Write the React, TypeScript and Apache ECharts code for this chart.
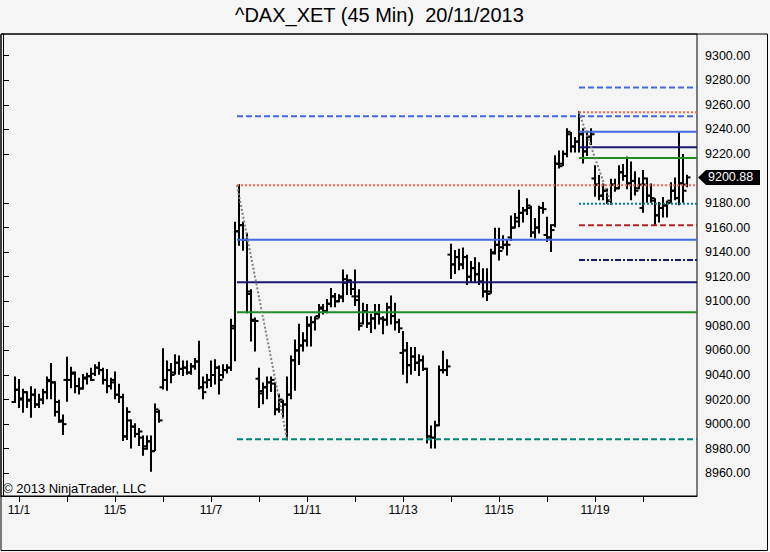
import React, { useEffect, useRef } from 'react';
import * as echarts from 'echarts';

// trading sessions shown on the chart (45 min bars)
const sessions = ['10/31', '11/1', '11/4', '11/5', '11/6', '11/7', '11/8', '11/11', '11/12', '11/13', '11/14', '11/15', '11/18', '11/19', '11/20'];
const sessionBars = [1, 12, 12, 12, 12, 12, 12, 12, 12, 12, 12, 12, 12, 12, 12];
const labeledSessions = ['11/1', '11/5', '11/7', '11/11', '11/13', '11/15', '11/19'];

// [open, close, low, high]
const bars: number[][] = [
  [9018, 9028, 9018, 9038],
  // 11/1
  [9028, 9020, 9014, 9036], [9021, 9026, 9010, 9028], [9026, 9019, 9014, 9026], [9020, 9024, 9006, 9030],
  [9024, 9016, 9014, 9028], [9016, 9020, 9014, 9024], [9020, 9026, 9017, 9028], [9026, 9035, 9021, 9038],
  [9036, 9034, 9021, 9049], [9034, 9010, 9007, 9034], [9018, 9003, 9002, 9019], [9002, 9000, 8992, 9007],
  // 11/4
  [9036, 9036, 9019, 9054], [9036, 9042, 9030, 9046], [9041, 9031, 9026, 9042], [9031, 9029, 9025, 9037],
  [9029, 9038, 9029, 9040], [9037, 9039, 9033, 9041], [9039, 9036, 9036, 9045], [9041, 9046, 9040, 9048],
  [9046, 9044, 9041, 9050], [9044, 9036, 9033, 9045], [9036, 9031, 9026, 9044], [9031, 9034, 9029, 9037],
  // 11/5
  [9036, 9024, 9021, 9042], [9024, 9022, 9018, 9032], [9022, 8990, 8987, 9024], [8990, 9010, 8988, 9013],
  [9003, 8998, 8981, 9003], [8998, 8992, 8990, 9000], [8992, 8994, 8983, 8996], [8989, 8980, 8975, 8990],
  [8982, 8986, 8980, 8990], [8986, 8978, 8962, 8990], [8978, 9012, 8979, 9016], [9010, 9003, 9002, 9011],
  // 11/6
  [9030, 9036, 9029, 9061], [9036, 9044, 9028, 9051], [9044, 9040, 9034, 9049], [9042, 9050, 9041, 9056],
  [9050, 9045, 9041, 9055], [9045, 9046, 9040, 9051], [9046, 9042, 9041, 9051], [9042, 9047, 9041, 9049],
  [9047, 9051, 9045, 9053], [9051, 9030, 9029, 9067], [9030, 9026, 9021, 9038], [9034, 9036, 9030, 9040],
  // 11/7
  [9036, 9040, 9031, 9051], [9040, 9046, 9033, 9052], [9046, 9036, 9025, 9047], [9040, 9044, 9038, 9048],
  [9044, 9046, 9042, 9048], [9046, 9080, 9044, 9085], [9078, 9157, 9052, 9164], [9157, 9162, 9146, 9194.4],
  [9162, 9150, 9142, 9164], [9150, 9108, 9091, 9155], [9106, 9085, 9068, 9109], [9084, 9084, 9060, 9086],
  // 11/8
  [9037, 9027, 9014, 9045], [9025, 9030, 9017, 9033], [9030, 9034, 9021, 9038], [9034, 9036, 9027, 9038],
  [9033, 9012, 9008, 9033], [9012, 9020, 9010, 9024], [9018, 9016, 9006, 9019], [9016, 9024, 8987.7, 9038],
  [9024, 9052, 9021, 9055], [9052, 9060, 9028, 9068], [9060, 9064, 9049, 9081], [9064, 9068, 9060, 9074],
  // 11/11
  [9068, 9081, 9064, 9087], [9080, 9083, 9064, 9087], [9083, 9086, 9077, 9087], [9088, 9095, 9087, 9097],
  [9094, 9092, 9090, 9097], [9092, 9098, 9091, 9101], [9098, 9104, 9096, 9110], [9104, 9100, 9096, 9106],
  [9100, 9104, 9100, 9105], [9103, 9118, 9100, 9125], [9115, 9117, 9106, 9121], [9117, 9110, 9106, 9117],
  // 11/12
  [9104, 9101, 9097, 9125], [9104, 9080, 9077, 9109], [9082, 9092, 9082, 9098], [9092, 9082, 9079, 9097],
  [9082, 9086, 9075, 9089], [9086, 9090, 9078, 9097], [9090, 9086, 9082, 9097], [9086, 9085, 9074, 9087],
  [9085, 9095, 9081, 9098], [9095, 9088, 9082, 9104], [9088, 9083, 9077, 9098], [9083, 9078, 9075, 9085],
  // 11/13
  [9058, 9060, 9041, 9075], [9060, 9048, 9034, 9066], [9048, 9055, 9041, 9062], [9055, 9050, 9044, 9062],
  [9050, 9052, 9040, 9056], [9052, 9045, 9044, 9055], [9045, 8990, 8985, 9045], [8990, 8989, 8981, 8998],
  [8989, 8999, 8981, 9002], [8999, 9044, 8999, 9047], [9044, 9044, 9042, 9059], [9044, 9047, 9040, 9052],
  // 11/14
  [9138, 9130, 9119, 9146], [9130, 9136, 9123, 9141], [9136, 9130, 9126, 9142], [9130, 9136, 9127, 9143],
  [9136, 9120, 9114, 9137], [9120, 9127, 9116, 9132], [9127, 9122, 9116, 9135], [9122, 9116, 9114, 9131],
  [9116, 9108, 9104, 9126], [9108, 9106, 9101, 9126], [9108, 9139, 9107, 9142], [9140, 9146, 9139, 9159],
  // 11/15
  [9146, 9141, 9134, 9159], [9144, 9146, 9143, 9153], [9146, 9146, 9138, 9149], [9152, 9160, 9150, 9169],
  [9160, 9168, 9160, 9171], [9165, 9172, 9161, 9190], [9172, 9174, 9165, 9176], [9174, 9178, 9171, 9183],
  [9176, 9156, 9153, 9177], [9156, 9160, 9152, 9167], [9160, 9176, 9156, 9177], [9176, 9175, 9172, 9180],
  // 11/18
  [9154, 9152, 9149, 9168], [9152, 9158, 9141, 9162], [9162, 9212, 9161, 9218], [9212, 9210, 9209, 9222],
  [9212, 9220, 9211, 9222], [9220, 9238, 9218, 9240], [9236, 9226, 9222, 9237], [9226, 9230, 9222, 9233],
  [9230, 9236, 9222, 9253.9], [9236, 9222, 9213, 9240], [9222, 9234, 9219, 9238], [9234, 9236, 9228, 9240],
  // 11/19
  [9200, 9195, 9186, 9210], [9195, 9186, 9183, 9202], [9186, 9190, 9183, 9195], [9190, 9182, 9180, 9191],
  [9182, 9195, 9179.5, 9199], [9195, 9192, 9190, 9199], [9192, 9205, 9192, 9210], [9205, 9202, 9199, 9211],
  [9202, 9196, 9192, 9217], [9196, 9198, 9183, 9213], [9198, 9190, 9187, 9205], [9192, 9195, 9192, 9200],
  // 11/20
  [9176, 9200, 9173, 9206], [9195, 9186, 9181, 9200], [9186, 9184, 9181, 9195], [9182, 9170, 9163, 9183],
  [9170, 9176, 9165, 9180], [9176, 9178, 9169, 9184], [9178, 9180, 9169, 9181], [9182, 9190, 9181, 9196],
  [9190, 9184, 9183, 9200], [9184, 9196, 9179, 9237], [9196, 9190, 9181, 9219], [9195, 9200.88, 9193.6, 9202.3],
];

const priceTicks = [8960, 8980, 9000, 9020, 9040, 9060, 9080, 9100, 9120, 9140, 9160, 9180, 9200, 9220, 9240, 9260, 9280, 9300];
const lastPrice = 9200.88;

// fibonacci drawings: anchor slots and prices
const fibA = { highSlot: 58.5, high: 9194.4, lowSlot: 71, low: 8987.7 };
const fibB = { highSlot: 144, high: 9253.9, lowSlot: 152, low: 9179.5 };
const fibLevelsA = [0, 0.5, 0.618, 0.786, 1, 1.272];
const fibLevelsB = [-0.618, -0.236, 0, 0.5, 0.618, 0.786, 1, 1.272];

const firstSlot = 3;
const lastSlot = 173.5;
const FONT = '"Liberation Sans", Arial, sans-serif';

const levelStyle = (r: number, dashedBase: boolean) => {
  if (r === 1.272) return { color: '#4169E1', type: [6, 3] };
  if (r === 1) return { color: '#FF6347', type: [2, 2] };
  if (r === 0.786) return { color: '#4169E1', type: 'solid' };
  if (r === 0.618) return { color: '#191970', type: 'solid' };
  if (r === 0.5) return { color: '#228B22', type: 'solid' };
  if (r === 0) return { color: '#008080', type: dashedBase ? [6, 3] : [2, 2] };
  if (r === -0.236) return { color: '#B22222', type: [6, 3] };
  return { color: '#191970', type: [6, 2, 2, 2] };
};

const App: React.FC = () => {
  const chartRef = useRef<HTMLDivElement>(null);

  useEffect(() => {
    if (!chartRef.current) return;
    const chart = echarts.init(chartRef.current, null, { renderer: 'svg' });

    // session start slots
    const starts: { label: string; slot: number }[] = [];
    let slot = firstSlot;
    sessions.forEach((s, i) => {
      starts.push({ label: s, slot });
      slot += sessionBars[i];
    });
    const tickSlots = starts.slice(1).map(s => s.slot);
    const labelSlots = starts.filter(s => labeledSessions.includes(s.label)).map(s => s.slot);
    const labelFor = (v: number) => {
      const f = starts.find(s => s.slot === v);
      return f ? f.label : '';
    };

    // the last price marker hides the axis label it sits on
    const shownPriceTicks = priceTicks.filter(t => Math.abs(t - lastPrice) > 10);

    const ohlc = bars.map((b, i) => [firstSlot + i, b[0], b[1], b[2], b[3]]);

    const fibSeries = (fib: typeof fibA, levels: number[], dashedBase: boolean) =>
      levels.map(r => {
        const price = fib.low + r * (fib.high - fib.low);
        const st = levelStyle(r, dashedBase);
        return {
          type: 'line',
          silent: true,
          symbol: 'none',
          z: 3,
          data: [[fib.highSlot, price], [lastSlot, price]],
          lineStyle: { color: st.color, width: 2, type: st.type },
        };
      });

    const diag = (fib: typeof fibA) => ({
      type: 'line',
      silent: true,
      symbol: 'none',
      z: 3,
      data: [[fib.highSlot, fib.high], [fib.lowSlot, fib.low]],
      lineStyle: { color: '#808080', width: 2, type: [2, 2] },
    });

    const option: any = {
      animation: false,
      backgroundColor: '#F5F5F5',
      textStyle: { fontFamily: FONT },
      grid: {
        left: 1,
        top: 34,
        width: 696,
        height: 462,
        show: true,
        borderColor: '#000',
        borderWidth: 1,
        backgroundColor: 'transparent',
        outerBoundsMode: 'none',
      },
      xAxis: {
        type: 'value',
        min: -0.5,
        max: lastSlot,
        splitLine: { show: false },
        axisLine: { lineStyle: { color: '#000', width: 1 } },
        axisTick: { customValues: tickSlots, length: 6, lineStyle: { color: '#000' } },
        axisLabel: {
          customValues: labelSlots,
          formatter: (v: number) => labelFor(v),
          color: '#000',
          fontSize: 12,
          fontFamily: FONT,
          margin: 8,
        },
      },
      yAxis: {
        type: 'value',
        position: 'right',
        min: 8941.5,
        max: 9317.6,
        splitLine: { show: false },
        axisLine: { show: true, lineStyle: { color: '#000', width: 1 } },
        axisTick: { customValues: shownPriceTicks, length: 6, lineStyle: { color: '#000' } },
        axisLabel: {
          customValues: shownPriceTicks,
          formatter: (v: number) => v.toFixed(2),
          color: '#000',
          fontSize: 12.5,
          fontFamily: FONT,
          margin: 8,
        },
      },
      series: [
        {
          type: 'custom',
          z: 2,
          data: ohlc,
          encode: { x: 0, y: [1, 2, 3, 4] },
          renderItem: (_params: any, api: any) => {
            const x = api.value(0);
            const o = api.coord([x, api.value(1)]);
            const c = api.coord([x, api.value(2)]);
            const l = api.coord([x, api.value(3)]);
            const h = api.coord([x, api.value(4)]);
            const style = { stroke: '#000', lineWidth: 2 };
            return {
              type: 'group',
              children: [
                { type: 'line', shape: { x1: l[0], y1: l[1] + 1, x2: h[0], y2: h[1] - 1 }, style },
                { type: 'line', shape: { x1: o[0] - 3.5, y1: o[1], x2: o[0], y2: o[1] }, style },
                { type: 'line', shape: { x1: c[0], y1: c[1], x2: c[0] + 3.5, y2: c[1] }, style },
              ],
            };
          },
        },
        ...fibSeries(fibA, fibLevelsA, true),
        ...fibSeries(fibB, fibLevelsB, false),
        diag(fibA),
        diag(fibB),
      ],
    };

    chart.setOption(option);

    const py = chart.convertToPixel({ yAxisIndex: 0 }, lastPrice) as number;

    chart.setOption({
      graphic: [
        {
          type: 'text',
          left: 235,
          top: 5,
          style: { text: '^DAX_XET (45 Min)  20/11/2013', fontSize: 20, fontFamily: FONT, fill: '#000' },
        },
        {
          type: 'rect',
          shape: { x: 1, y: 34, width: 766.5, height: 516.5 },
          style: { fill: 'none', stroke: '#000', lineWidth: 1 },
          silent: true,
        },
        {
          type: 'text',
          x: 3,
          y: 488,
          style: { text: '\u00A9 2013 NinjaTrader, LLC', fontSize: 13, fontFamily: FONT, fill: '#000', textVerticalAlign: 'middle' },
        },
        {
          type: 'polygon',
          z: 10,
          shape: { points: [[698, py], [706, py - 7.5], [760, py - 7.5], [760, py + 7.5], [706, py + 7.5]] },
          style: { fill: '#000' },
        },
        {
          type: 'text',
          z: 11,
          x: 708,
          y: py,
          style: { text: lastPrice.toFixed(2), fontSize: 12.5, fontFamily: FONT, fill: '#fff', textVerticalAlign: 'middle' },
        },
      ],
    });

    const handleResize = () => chart.resize();
    window.addEventListener('resize', handleResize);
    return () => {
      window.removeEventListener('resize', handleResize);
      chart.dispose();
    };
  }, []);

  return <div ref={chartRef} style={{ position: 'absolute', left: 0, top: 0, width: 770, height: 552 }} />;
};

export default App;
